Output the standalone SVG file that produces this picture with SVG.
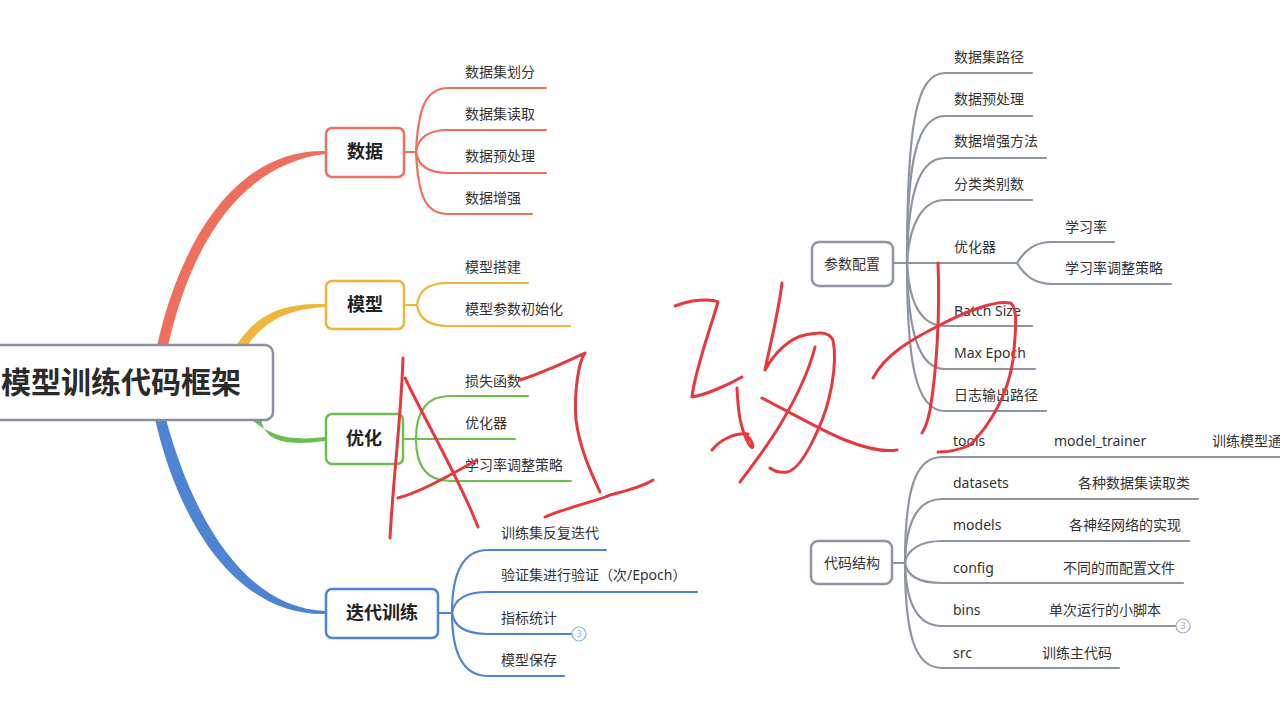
<svg xmlns="http://www.w3.org/2000/svg" width="1280" height="720" viewBox="0 0 1280 720">
<style>
text{font-family:"Noto Sans","Noto Sans CJK SC",sans-serif;fill:#333}
.lbl{font-size:14px}
.br{font-size:18px;font-weight:bold;fill:#222;text-anchor:middle}
.gbox{font-size:14px;text-anchor:middle}
.ln{fill:none;stroke-width:2.2;stroke-linecap:round}
.r{stroke:#ee6f5d}.y{stroke:#f0b63c}.g{stroke:#6cbe4f}.b{stroke:#4d84d4}.k{stroke:#8e94a1}
.box{fill:#fff;stroke-width:2.5}
.hw{fill:none;stroke:#e5383f;stroke-width:3;stroke-linecap:round;stroke-linejoin:round}
.badge{font-size:9px;text-anchor:middle}
</style>
<rect width="1280" height="720" fill="#fff"/>
<g id="connectors">
  <path d="M157,346 C181,238 238,149 325,151 L325,154 C242,164 191,243 168,346 Z" fill="#ee6f5d"/>
  <path d="M236,346 C258,312 285,303 325,304 L325,307 C290,309 266,319 247,346 Z" fill="#f0b63c"/>
  <path d="M250,418 C270,437 292,441 325,437 L325,441 C286,446 264,442 261,418 Z" fill="#6cbe4f"/>
  <path d="M155,419 C179,525 238,616 325,614 L325,611 C244,608 192,516 166,419 Z" fill="#4d84d4"/>
  <path class="ln r" d="M405,152 H416"/>
  <path class="ln r" d="M416,152 C418,110 425,88 448,88 H546"/>
  <path class="ln r" d="M416,152 C418,138 428,130 448,130 H546"/>
  <path class="ln r" d="M416,152 C418,165 428,173 448,173 H546"/>
  <path class="ln r" d="M416,152 C418,195 425,214 448,214 H532"/>
  <path class="ln y" d="M405,305 H417"/>
  <path class="ln y" d="M417,305 C419,290 428,283 448,283 H528"/>
  <path class="ln y" d="M417,305 C419,318 428,326 448,326 H570"/>
  <path class="ln g" d="M403,439 H515"/>
  <path class="ln g" d="M416,439 C416,410 428,396 450,396 H528"/>
  <path class="ln g" d="M416,439 C416,468 428,481 450,481 H571"/>
  <path class="ln b" d="M438,613 H452"/>
  <path class="ln b" d="M452,613 C452,570 465,550 488,550 H606"/>
  <path class="ln b" d="M452,613 C454,600 465,592 488,592 H697"/>
  <path class="ln b" d="M452,613 C454,626 465,634 488,634 H572"/>
  <path class="ln b" d="M452,613 C452,656 465,676 488,676 H564"/>
  <path class="ln k" d="M893,263 H1017"/>
  <path class="ln k" d="M907,263 C907,130 915,73 945,73 H1032"/>
  <path class="ln k" d="M907,263 C907,160 917,116 945,116 H1032"/>
  <path class="ln k" d="M907,263 C908,190 920,158 945,158 H1046"/>
  <path class="ln k" d="M907,263 C909,225 922,200 945,200 H1032"/>
  <path class="ln k" d="M907,263 C909,300 920,326 945,326 H1032"/>
  <path class="ln k" d="M907,263 C908,330 918,369 945,369 H1035"/>
  <path class="ln k" d="M907,263 C907,360 915,411 945,411 H1046"/>
  <path class="ln k" d="M1017,263 C1025,250 1035,242 1052,242 H1114"/>
  <path class="ln k" d="M1017,263 C1025,276 1035,284 1052,284 H1171"/>
  <path class="ln k" d="M892,563 H905"/>
  <path class="ln k" d="M905,563 C905,490 915,457 942,457 H1282"/>
  <path class="ln k" d="M905,563 C906,520 918,499 942,499 H1198"/>
  <path class="ln k" d="M905,563 C907,550 920,541 942,541 H1189"/>
  <path class="ln k" d="M905,563 C907,576 920,583 942,583 H1183"/>
  <path class="ln k" d="M905,563 C906,605 918,626 942,626 H1176"/>
  <path class="ln k" d="M905,563 C905,635 915,668 942,668 H1119"/>
</g>
<g id="root">
  <rect class="box" x="-10" y="345" width="283" height="75" rx="8" stroke="#8a8f9d" stroke-width="3"/>
  <text x="1" y="393" style="font-size:30px;font-weight:600;fill:#2b2b2b">模型训练代码框架</text>
</g>
<g id="node-data">
  <rect class="box r" x="326" y="128" width="78" height="49" rx="6"/>
  <text class="br" x="365" y="158">数据</text>
  <text class="lbl" x="465" y="77">数据集划分</text>
  <text class="lbl" x="465" y="119">数据集读取</text>
  <text class="lbl" x="465" y="161">数据预处理</text>
  <text class="lbl" x="465" y="203">数据增强</text>
</g>
<g id="node-model">
  <rect class="box y" x="326" y="281" width="78" height="48" rx="6"/>
  <text class="br" x="365" y="311">模型</text>
  <text class="lbl" x="465" y="272">模型搭建</text>
  <text class="lbl" x="465" y="314">模型参数初始化</text>
</g>
<g id="node-opt">
  <rect class="box g" x="326" y="414" width="77" height="50" rx="6"/>
  <text class="br" x="364" y="445">优化</text>
  <text class="lbl" x="465" y="386">损失函数</text>
  <text class="lbl" x="465" y="428">优化器</text>
  <text class="lbl" x="465" y="470">学习率调整策略</text>
</g>
<g id="node-iter">
  <rect class="box b" x="326" y="589" width="112" height="49" rx="6"/>
  <text class="br" x="382" y="619">迭代训练</text>
  <text class="lbl" x="501" y="538">训练集反复迭代</text>
  <text class="lbl" x="501" y="580">验证集进行验证（次/Epoch）</text>
  <text class="lbl" x="501" y="623">指标统计</text>
  <text class="lbl" x="501" y="665">模型保存</text>
  <circle cx="579" cy="634" r="7" fill="#fff" stroke="#8fb0e6" stroke-width="1.2"/>
  <text class="badge" x="579" y="637" style="fill:#8fb0e6">3</text>
</g>
<g id="node-params">
  <rect class="box k" x="812" y="242" width="81" height="44" rx="7" stroke-width="2"/>
  <text class="gbox" x="852" y="269">参数配置</text>
  <text class="lbl" x="954" y="62">数据集路径</text>
  <text class="lbl" x="954" y="104">数据预处理</text>
  <text class="lbl" x="954" y="146">数据增强方法</text>
  <text class="lbl" x="954" y="189">分类类别数</text>
  <text class="lbl" x="954" y="252">优化器</text>
  <text class="lbl" x="1065" y="232">学习率</text>
  <text class="lbl" x="1065" y="273">学习率调整策略</text>
  <text class="lbl" x="954" y="316">Batch Size</text>
  <text class="lbl" x="954" y="358">Max Epoch</text>
  <text class="lbl" x="954" y="400">日志输出路径</text>
</g>
<g id="node-code">
  <rect class="box k" x="811" y="541" width="81" height="43" rx="7" stroke-width="2"/>
  <text class="gbox" x="852" y="568">代码结构</text>
  <text class="lbl" x="953" y="446">tools</text>
  <text class="lbl" x="1054" y="446">model_trainer</text>
  <text class="lbl" x="1212" y="446">训练模型通</text>
  <text class="lbl" x="953" y="488">datasets</text>
  <text class="lbl" x="1078" y="488">各种数据集读取类</text>
  <text class="lbl" x="953" y="530">models</text>
  <text class="lbl" x="1069" y="530">各神经网络的实现</text>
  <text class="lbl" x="953" y="573">config</text>
  <text class="lbl" x="1063" y="573">不同的而配置文件</text>
  <text class="lbl" x="953" y="615">bins</text>
  <text class="lbl" x="1049" y="615">单次运行的小脚本</text>
  <text class="lbl" x="953" y="658">src</text>
  <text class="lbl" x="1042" y="658">训练主代码</text>
  <circle cx="1183" cy="626" r="7" fill="#fff" stroke="#a6abb5" stroke-width="1.2"/>
  <text class="badge" x="1183" y="629" style="fill:#a6abb5">3</text>
</g>
<g id="handwriting">
  <path class="hw" d="M403,358 C401,420 393,480 390,538"/>
  <path class="hw" d="M405,378 C425,420 460,480 478,527"/>
  <path class="hw" d="M398,498 C420,492 445,478 477,460"/>
  <path class="hw" d="M520,380 C545,372 570,360 585,353 C578,362 574,395 576,420 C580,450 592,475 600,492"/>
  <path class="hw" d="M545,517 C565,508 600,500 610,495 C630,490 645,485 653,480"/>
  <path class="hw" d="M675,306 C690,300 710,298 718,302 C710,330 695,370 692,397 C705,395 728,385 742,377"/>
  <path class="hw" d="M737,388 C738,410 740,430 750,446 C756,452 752,438 745,435"/>
  <path class="hw" d="M712,450 C720,440 735,432 748,434"/>
  <path class="hw" d="M815,347 C808,375 795,400 780,425 C765,450 750,468 740,482"/>
  <path class="hw" d="M782,283 C778,315 770,345 765,370 C775,352 790,338 805,335 C815,333 828,330 833,340 C838,365 830,405 817,432 C808,452 798,470 787,472 C780,473 774,471 770,468"/>
  <path class="hw" d="M762,398 C790,412 820,430 845,440 C865,448 885,452 897,450"/>
  <path class="hw" d="M938,263 C940,310 937,370 930,410 C927,425 924,430 922,433"/>
  <path class="hw" d="M873,378 C885,355 910,340 940,325 C965,312 995,300 1010,303 C1018,306 1016,330 1013,360 C1008,395 990,425 970,445 C955,452 945,452 938,452"/>
</g>
</svg>
